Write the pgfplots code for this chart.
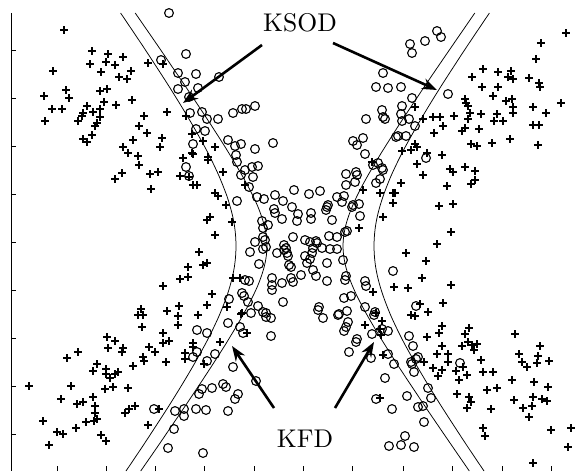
\documentclass[border=0pt]{standalone}
\usepackage{graphicx}
\usepackage{pgfplots}
\pgfplotsset{compat=1.18}
\usetikzlibrary{arrows.meta}
\begin{document}
\begin{tikzpicture}
\begin{axis}[
  scale only axis, width=574pt, height=458pt,
  xmin=11, xmax=585, ymin=13, ymax=471, y dir=reverse,
  axis x line*=bottom, axis y line*=left,
  axis line style={-, line width=0.8pt},
  x axis line style={draw=none},
  tick align=inside, major tick length=5pt,
  tick style={black, line width=0.8pt},
  xtick={57,106,155,204,254,303,352,403,452,502,551},
  ytick={50,98,146,194,242,290,338,386,434},
  xticklabels={}, yticklabels={},
  clip=false,
]
% left outer curve
\addplot[black, line width=0.75pt, smooth] coordinates {
(120.6,13)(142.8,46)(155.9,66)(168.8,86)(181.2,106)(193.1,126)(204.3,146)(209.5,156)(214.4,166)(219.0,176)(223.1,186)(226.9,196)(230.0,206)(232.6,216)(234.5,226)(235.6,236)(236.0,246)(235.6,256)(234.5,266)(232.6,276)(230.0,286)(226.9,296)(223.1,306)(219.0,316)(214.4,326)(209.5,336)(204.3,346)(193.1,366)(181.2,386)(168.8,406)(155.9,426)(142.8,446)(126.0,471)};
% left inner curve
\addplot[black, line width=0.75pt, smooth] coordinates {
(135.2,13)(158.0,46)(171.6,66)(185.2,86)(198.6,106)(211.7,126)(224.5,146)(230.6,156)(236.6,166)(242.4,176)(247.9,186)(253.0,196)(257.6,206)(261.4,216)(264.4,226)(266.3,236)(267.0,246)(266.3,256)(264.4,266)(261.4,276)(257.6,286)(253.0,296)(247.9,306)(242.4,316)(236.6,326)(230.6,336)(224.5,346)(211.7,366)(198.6,386)(185.2,406)(171.6,426)(158.0,446)(140.7,471)};
% right inner curve
\addplot[black, line width=0.75pt, smooth] coordinates {
(474.8,13)(452.1,46)(438.4,66)(424.8,86)(411.5,106)(398.3,126)(385.6,146)(379.4,156)(373.4,166)(367.6,176)(362.1,186)(357.0,196)(352.5,206)(348.6,216)(345.6,226)(343.7,236)(343.0,246)(343.7,256)(345.6,266)(348.6,276)(352.5,286)(357.0,296)(362.1,306)(367.6,316)(373.4,326)(379.4,336)(385.6,346)(398.3,366)(411.5,386)(424.8,406)(438.4,426)(452.1,446)(469.3,471)};
% right outer curve
\addplot[black, line width=0.75pt, smooth] coordinates {
(489.4,13)(467.2,46)(454.1,66)(441.2,86)(428.8,106)(416.9,126)(405.7,146)(400.5,156)(395.6,166)(391.0,176)(386.9,186)(383.2,196)(380.0,206)(377.4,216)(375.5,226)(374.4,236)(374.0,246)(374.4,256)(375.5,266)(377.4,276)(380.0,286)(383.2,296)(386.9,306)(391.0,316)(395.6,326)(400.5,336)(405.7,346)(416.9,366)(428.8,386)(441.2,406)(454.1,426)(467.2,446)(484.0,471)};
% plus class
\addplot[only marks, mark=+, mark size=3.8pt, mark options={line width=1.3pt, black}] coordinates {
(64,30)(92,51)(108,54)(90,64)(106,62)(123,57)(115,65)(53,71)(101,72)(131,71)(119,77)(127,79)(148,63)(163,64)(66,90)(69,98)(44,96)(100,91)(107,89)(52,109)(62,109)(45,121)(87,106)(83,113)(82,116)(93,112)(100,109)(100,117)(104,102)(116,105)(132,100)(78,121)(97,123)(95,126)(144,116)(167,112)(139,126)(147,133)(83,139)(87,142)(92,135)(133,140)(123,147)(128,153)(138,156)(162,138)(160,147)(183,158)(192,153)(192,134)(186,116)
(215,147)(203,141)(193,154)(208,157)
(139,165)(115,179)(122,173)(150,174)(158,172)(151,189)(180,176)(189,177)(193,185)(197,185)(199,252)(188,267)(180,279)(188,277)(163,286)(141,309)(138,315)(143,315)(167,311)(179,306)(178,316)(142,327)(178,325)(198,315)
(208,160)(223,172)(215,193)(218,196)(226,205)(245,185)(207,220)(210,217)(232,222)(215,235)(203,265)(207,263)(233,278)(240,278)(212,294)(207,305)(227,307)(242,313)(372,162)(363,190)(359,228)(380,193)(383,217)(393,193)(393,203)(373,292)(376,313)(394,287)
(29,386)(43,421)(49,445)(57,432)(63,434)(76,428)(61,399)(71,386)(67,358)(78,352)(77,404)(83,402)(86,422)(94,421)(97,419)(95,413)(95,406)(93,397)(101,435)(106,441)(93,371)(97,364)(106,369)(106,374)(110,378)(115,374)(118,372)(107,337)(115,341)(108,348)(123,348)(122,352)(105,389)(113,387)(128,388)(125,413)(129,409)(135,406)(133,366)(143,357)(144,361)(149,347)(155,352)(166,362)(163,333)(169,341)(163,343)(148,425)(193,343)(193,347)(185,353)(185,359)(159,409)
(241,314)(247,333)(220,342)(204,364)(365,325)(382,321)(380,329)(383,355)
(566,33)(541,43)(536,59)(483,69)(498,72)(511,71)(508,77)(513,79)(472,77)(529,78)(539,83)(540,87)(482,87)(498,87)(493,96)(465,99)(466,103)(468,106)(506,101)(512,99)(513,107)(533,107)(546,113)(561,103)(415,107)(423,119)(433,117)(440,117)(454,116)(470,113)(468,119)(481,114)(497,114)(494,121)(503,121)(513,113)(443,126)(434,133)(462,131)(465,128)(479,129)(533,125)(539,125)(471,144)(477,146)(492,143)(510,139)(538,145)(415,144)(417,147)(411,150)(427,153)(442,155)(402,151)
(417,164)(423,175)(450,169)(453,172)(465,167)(475,171)(475,180)(471,184)(447,186)(401,183)(395,193)(439,206)(453,204)(451,232)(437,244)(406,253)(426,261)(422,278)(408,288)(451,285)(443,303)(420,304)(411,315)(415,316)(428,312)(442,326)(469,328)
(439,333)(427,337)(465,334)(442,346)(462,346)(468,342)(472,345)(477,344)(474,350)(437,354)(448,354)(448,362)(424,362)(515,334)(540,346)(519,354)(538,356)(522,362)(527,367)(537,363)(549,361)(481,360)(433,368)(442,370)(438,376)(456,371)(463,367)(467,375)(459,380)(483,372)(493,372)(512,380)(534,382)(548,387)(497,388)(487,390)(457,394)(469,397)(471,402)(467,408)(491,409)(514,400)(533,397)(542,399)(547,401)(523,408)(532,406)(529,417)(483,428)(485,436)(551,430)(571,428)(568,447)(533,463)(381,335)(380,398)
};
% circle class
\addplot[only marks, mark=o, mark size=4.4pt, mark options={line width=1.1pt, black}] coordinates {
(169,13)(186,54)(178,73)(185,82)(178,89)(196,74)(189,97)(190,113)(196,129)(193,144)(161,60)
(219,77)(198,88)(202,112)(207,119)(218,119)(233,113)(242,109)(246,109)(255,106)(205,131)(228,140)(235,146)(241,144)(255,149)(273,143)(236,155)(383,73)(376,87)(388,88)(382,110)(366,119)(385,119)(353,141)(363,138)(357,145)(365,154)
(437,31)(441,37)(425,41)(410,44)(412,53)(401,87)(412,98)(402,106)(448,94)(401,114)(383,117)(402,121)(409,119)(415,126)(398,136)(406,136)(396,137)(426,158)
(393,271)(416,306)
(237,162)(186,167)(245,170)(252,167)(258,166)(253,177)(241,175)(249,187)(257,197)(264,199)(275,195)(283,201)(294,190)(309,194)(320,191)(337,197)(344,196)(237,201)(274,209)(275,213)(292,207)(298,214)(311,213)(311,219)(327,207)(326,210)(328,205)(342,202)(353,205)(352,207)(359,204)(282,219)(297,221)(332,220)(360,216)(346,174)(346,185)(356,172)(357,175)(355,182)(373,165)(378,163)(382,168)(383,170)(380,179)(376,183)(262,221)(263,228)(268,225)(263,237)(265,240)(266,247)(263,249)(255,242)(250,252)(259,264)(293,237)(305,240)(310,242)(316,241)(317,243)(313,248)(322,248)(329,236)(337,237)(330,249)(337,249)(345,232)(347,231)(284,245)(286,248)(284,250)(277,253)(287,253)(288,256)(289,265)(291,267)(305,256)(310,259)(312,253)(307,263)(313,270)(316,276)(327,263)(327,281)(343,260)(301,275)(272,278)(272,285)(272,290)(282,283)(291,278)(293,282)(283,302)(319,307)(339,314)(347,311)(344,298)(351,296)(345,280)(346,276)(365,281)(366,286)(229,299)(242,293)(244,296)(248,302)(245,280)(249,281)(251,313)(258,306)(263,312)(266,317)(189,176)(365,307)
(197,330)(193,357)(197,352)(175,411)(184,409)(184,416)(196,409)(174,429)(168,448)(199,394)(154,409)
(266,313)(271,318)(228,323)(240,327)(243,333)(207,333)(271,336)(215,354)(207,361)(233,367)(256,381)(212,388)(223,384)(226,387)(202,389)(238,394)(235,399)(206,410)(228,411)(203,453)(318,310)(323,318)(338,315)(348,322)(346,327)(344,331)(357,339)(356,342)(349,352)(372,334)(371,358)(375,312)(374,315)(385,378)(376,399)(389,446)
(388,331)(382,329)(409,336)(413,346)(388,354)(394,364)(418,357)(416,359)(411,362)(412,364)(414,372)(460,363)(428,388)(431,398)(407,396)(418,407)(423,406)(392,409)(424,422)(405,436)(401,445)(414,447)
};
\draw[line width=2.6pt, -{Stealth[length=15pt,width=11pt]}] (axis cs:262,45) -- (axis cs:183,103);
\draw[line width=2.6pt, -{Stealth[length=15pt,width=11pt]}] (axis cs:333,43) -- (axis cs:437,90);
\draw[line width=2.6pt, -{Stealth[length=15pt,width=11pt]}] (axis cs:274,408) -- (axis cs:232,346);
\draw[line width=2.6pt, -{Stealth[length=15pt,width=11pt]}] (axis cs:335,408) -- (axis cs:374,342);
\node[inner sep=0pt] at (axis cs:300,23) {\scalebox{2.56}{\normalsize KSOD}};
\node[inner sep=0pt] at (axis cs:305,439) {\scalebox{2.56}{\normalsize KFD}};
\end{axis}
\pgfresetboundingbox
\path ([xshift=-11pt]current axis.south west) rectangle ([yshift=13pt]current axis.north east);
\end{tikzpicture}
\end{document}
